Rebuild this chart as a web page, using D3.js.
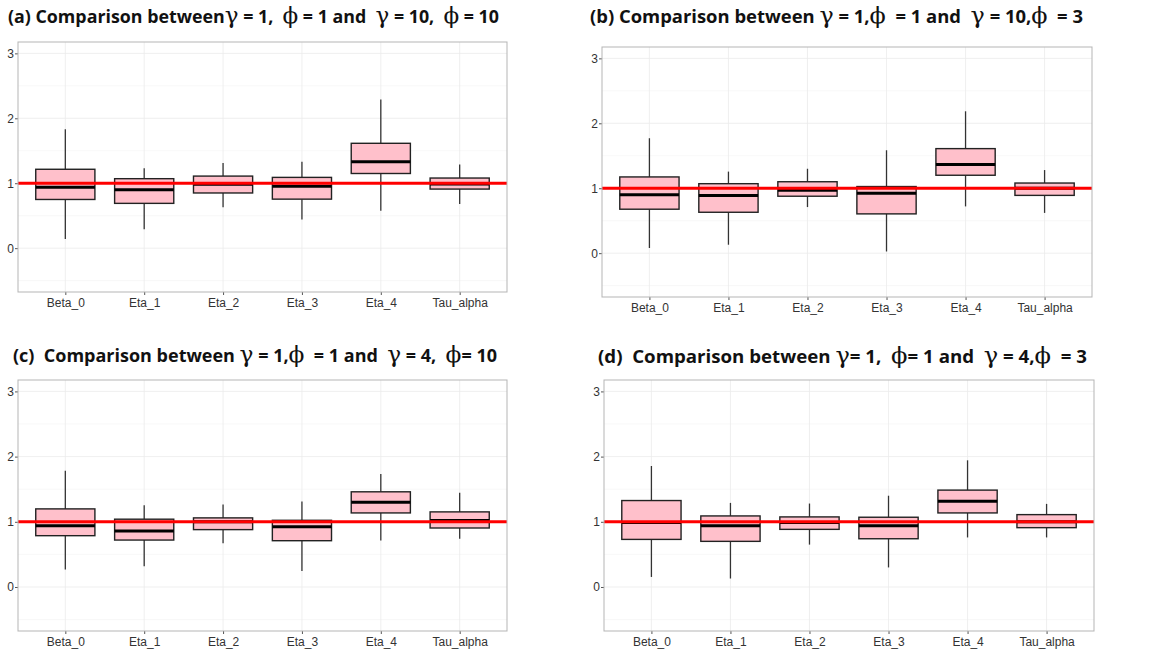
<!DOCTYPE html>
<html>
<head>
<meta charset="utf-8">
<script src="https://cdn.jsdelivr.net/npm/d3@7"></script>
<style>
  body { margin: 0; background: #fff; }
  svg text { white-space: pre; }
</style>
</head>
<body>
<script>
// categories on the x axis
var categories = ['Beta_0', 'Eta_1', 'Eta_2', 'Eta_3', 'Eta_4', 'Tau_alpha'];
var yTicks = [0, 1, 2, 3];
var yMinor = [-0.5, 0.5, 1.5, 2.5];
var refValue = 1;

// each row: [lower whisker, q1, median, q3, upper whisker]
var boxesA = [
  [0.14, 0.75, 0.94, 1.215, 1.83],
  [0.29, 0.69, 0.90, 1.07, 1.23],
  [0.63, 0.85, 0.985, 1.11, 1.31],
  [0.44, 0.755, 0.955, 1.09, 1.33],
  [0.575, 1.15, 1.33, 1.615, 2.29],
  [0.68, 0.91, 0.99, 1.08, 1.29]
];
var boxesB = [
  [0.08, 0.677, 0.90, 1.174, 1.77],
  [0.13, 0.63, 0.887, 1.07, 1.256],
  [0.71, 0.877, 0.97, 1.10, 1.30],
  [0.026, 0.605, 0.923, 1.026, 1.585],
  [0.72, 1.20, 1.364, 1.61, 2.185],
  [0.62, 0.89, 1.0, 1.08, 1.28]
];
var boxesC = [
  [0.27, 0.787, 0.94, 1.198, 1.784],
  [0.32, 0.72, 0.86, 1.04, 1.255],
  [0.67, 0.88, 1.0, 1.06, 1.265],
  [0.247, 0.71, 0.925, 1.023, 1.31],
  [0.715, 1.136, 1.30, 1.46, 1.733],
  [0.74, 0.905, 1.02, 1.152, 1.445]
];
var boxesD = [
  [0.154, 0.73, 0.99, 1.326, 1.856],
  [0.13, 0.70, 0.94, 1.09, 1.29],
  [0.65, 0.884, 0.99, 1.075, 1.28],
  [0.30, 0.74, 0.94, 1.07, 1.40],
  [0.76, 1.136, 1.316, 1.486, 1.943],
  [0.76, 0.91, 1.0, 1.11, 1.275]
];

// title pieces: [text, isGreek]
var titleA = [['(a)', 0], [' Comparison between', 0], ['γ', 1], [' = 1,  ', 0], ['ϕ', 1], [' = 1 and  ', 0], ['γ', 1], [' = 10,  ', 0], ['ϕ', 1], [' = 10', 0]];
var titleB = [['(b)', 0], [' Comparison between ', 0], ['γ', 1], [' = 1,', 0], ['ϕ', 1], ['  = 1 and  ', 0], ['γ', 1], [' = 10,', 0], ['ϕ', 1], ['  = 3', 0]];
var titleC = [['(c)', 0], ['  Comparison between ', 0], ['γ', 1], [' = 1,', 0], ['ϕ', 1], ['  = 1 and  ', 0], ['γ', 1], [' = 4,  ', 0], ['ϕ', 1], ['= 10', 0]];
var titleD = [['(d)', 0], ['  Comparison between ', 0], ['γ', 1], ['= 1,  ', 0], ['ϕ', 1], ['= 1 and  ', 0], ['γ', 1], [' = 4,', 0], ['ϕ', 1], ['  = 3', 0]];

var panels = [
  { boxes: boxesA, title: titleA, left: 18, right: 507, top: 42, bottom: 292, tx: 8, ty: 23, tw: 491 },
  { boxes: boxesB, title: titleB, left: 602, right: 1092, top: 47, bottom: 297, tx: 590, ty: 23, tw: 493 },
  { boxes: boxesC, title: titleC, left: 18, right: 507, top: 380, bottom: 631, tx: 13, ty: 362, tw: 484 },
  { boxes: boxesD, title: titleD, left: 604, right: 1094, top: 380, bottom: 631, tx: 598, ty: 363, tw: 489 }
];

var svg = d3.select('body').append('svg')
  .attr('width', 1149)
  .attr('height', 654);

panels.forEach(function (p, pi) {
  var x = d3.scalePoint()
    .domain(categories)
    .range([p.left, p.right])
    .padding(0.6);
  var step = x.step();
  var y = d3.scaleLinear()
    .domain([-0.675, 3.175])
    .range([p.bottom, p.top]);

  var g = svg.append('g');

  // title
  var t = g.append('text')
    .attr('x', p.tx)
    .attr('y', p.ty)
    .attr('textLength', p.tw)
    .attr('lengthAdjust', 'spacingAndGlyphs')
    .style('font-family', '"Open Sans", sans-serif')
    .style('font-weight', 700)
    .style('font-size', '17px')
    .style('fill', '#111');
  t.selectAll('tspan')
    .data(p.title)
    .enter()
    .append('tspan')
    .text(function (d) { return d[0]; })
    .style('font-family', function (d) { return d[1] ? '"DejaVu Serif", serif' : null; })
    .style('font-weight', function (d) { return d[1] ? 400 : null; })
    .style('font-size', function (d) { return d[1] ? '22px' : null; });

  // minor grid
  g.selectAll('.ymin')
    .data(yMinor)
    .enter()
    .append('line')
    .attr('x1', p.left).attr('x2', p.right)
    .attr('y1', function (d) { return y(d); })
    .attr('y2', function (d) { return y(d); })
    .style('stroke', '#f3f3f3')
    .style('stroke-width', 0.6);

  // major grid
  g.selectAll('.ymaj')
    .data(yTicks)
    .enter()
    .append('line')
    .attr('x1', p.left).attr('x2', p.right)
    .attr('y1', function (d) { return y(d); })
    .attr('y2', function (d) { return y(d); })
    .style('stroke', '#ebebeb')
    .style('stroke-width', 0.8);
  g.selectAll('.xmaj')
    .data(categories)
    .enter()
    .append('line')
    .attr('x1', function (d) { return x(d); })
    .attr('x2', function (d) { return x(d); })
    .attr('y1', p.top).attr('y2', p.bottom)
    .style('stroke', '#ebebeb')
    .style('stroke-width', 0.8);

  // y axis
  var ya = g.append('g')
    .attr('transform', 'translate(' + p.left + ',0)')
    .call(d3.axisLeft(y).tickValues(yTicks).tickSize(3).tickFormat(d3.format('d')));
  ya.select('.domain').remove();
  ya.selectAll('line').style('stroke', '#555');
  ya.selectAll('text')
    .attr('x', -4)
    .style('font-family', '"Liberation Sans", Arial, sans-serif')
    .style('font-size', '12px')
    .style('fill', '#333');

  // x axis
  var xa = g.append('g')
    .attr('transform', 'translate(0,' + p.bottom + ')')
    .call(d3.axisBottom(x).tickSize(3));
  xa.select('.domain').remove();
  xa.selectAll('line').style('stroke', '#555');
  xa.selectAll('text')
    .attr('y', 6)
    .style('font-family', '"Liberation Sans", Arial, sans-serif')
    .style('font-size', '12px')
    .style('fill', '#333');

  // boxes
  var bw = step * 0.75;
  var box = g.selectAll('.box')
    .data(p.boxes)
    .enter()
    .append('g');
  box.append('line')
    .attr('x1', function (d, i) { return x(categories[i]); })
    .attr('x2', function (d, i) { return x(categories[i]); })
    .attr('y1', function (d) { return y(d[0]); })
    .attr('y2', function (d) { return y(d[1]); })
    .style('stroke', '#333')
    .style('stroke-width', 1.3);
  box.append('line')
    .attr('x1', function (d, i) { return x(categories[i]); })
    .attr('x2', function (d, i) { return x(categories[i]); })
    .attr('y1', function (d) { return y(d[3]); })
    .attr('y2', function (d) { return y(d[4]); })
    .style('stroke', '#333')
    .style('stroke-width', 1.3);
  box.append('rect')
    .attr('x', function (d, i) { return x(categories[i]) - bw / 2; })
    .attr('width', bw)
    .attr('y', function (d) { return y(d[3]); })
    .attr('height', function (d) { return y(d[1]) - y(d[3]); })
    .style('fill', '#ffc0cb')
    .style('stroke', '#222')
    .style('stroke-width', 1.4);
  box.append('line')
    .attr('x1', function (d, i) { return x(categories[i]) - bw / 2; })
    .attr('x2', function (d, i) { return x(categories[i]) + bw / 2; })
    .attr('y1', function (d) { return y(d[2]); })
    .attr('y2', function (d) { return y(d[2]); })
    .style('stroke', '#000')
    .style('stroke-width', 3);

  // reference line
  g.append('line')
    .attr('x1', p.left).attr('x2', p.right)
    .attr('y1', y(refValue)).attr('y2', y(refValue))
    .style('stroke', '#ff0000')
    .style('stroke-width', 3);

  // panel border
  g.append('rect')
    .attr('x', p.left).attr('y', p.top)
    .attr('width', p.right - p.left)
    .attr('height', p.bottom - p.top)
    .style('fill', 'none')
    .style('stroke', '#b5b5b5')
    .style('stroke-width', 1);
});
</script>
</body>
</html>
